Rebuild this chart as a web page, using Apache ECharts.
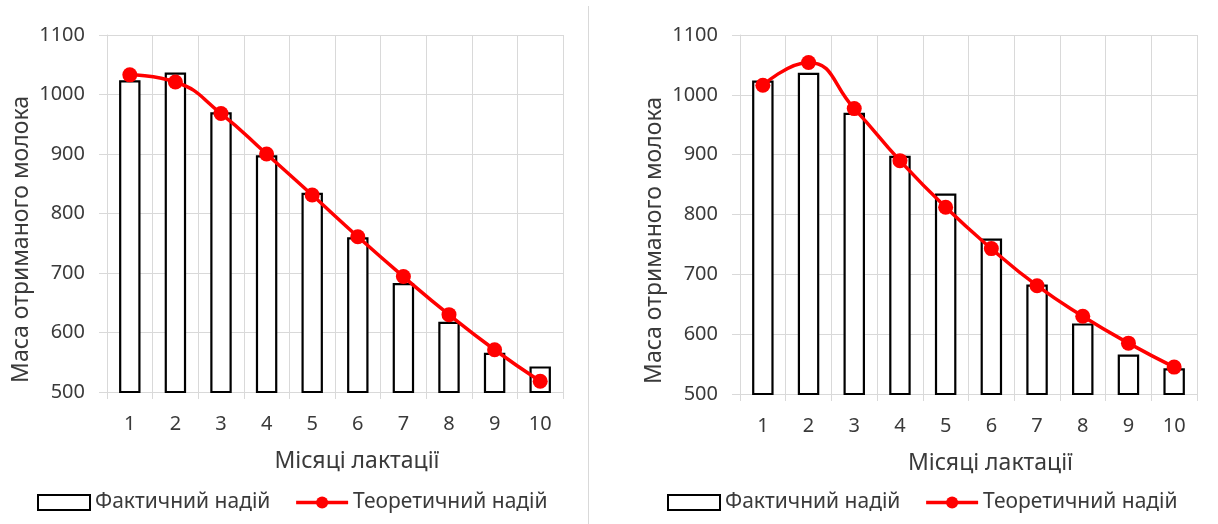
<!DOCTYPE html>
<html>
<head>
<meta charset="utf-8">
<script src="https://cdn.jsdelivr.net/npm/echarts@6/dist/echarts.min.js"></script>
<style>
html,body{margin:0;padding:0;background:#fff;}
#wrap{position:relative;width:1218px;height:524px;}
#chart{position:absolute;left:0;top:0;width:1218px;height:524px;}
#sep{position:absolute;left:588px;top:6px;width:1px;height:518px;background:#d9d9d9;}
</style>
</head>
<body>
<div id="wrap"><div id="chart"></div><div id="sep"></div></div>
<script>
// ---- data ----
const months = ['1','2','3','4','5','6','7','8','9','10'];
const actualYield = [1024, 1037, 970, 898, 835, 760, 683, 618, 566, 543];
const theoreticalLeft = [1033, 1021, 968, 900, 831, 761, 694, 630, 571, 518];
const theoreticalRight = [1016, 1054, 977, 890, 812, 743, 681, 630, 585, 545];
const yTicks = { min: 500, max: 1100, step: 100 };
const barName = 'Фактичний надій';
const lineName = 'Теоретичний надій';
const xTitle = 'Місяці лактації';
const yTitle = 'Маса отриманого молока';

const FONT = 'Noto Sans';
const TXT = '#3a3a3a';
const GRID = '#d9d9d9';

function xAxisCfg(gi) {
  return {
    type: 'category', gridIndex: gi, data: months, boundaryGap: true,
    axisLine: { show: true, lineStyle: { color: GRID, width: 1 } },
    axisTick: { show: true, length: 7, interval: 0, lineStyle: { color: GRID } },
    splitLine: { show: true, interval: 0, lineStyle: { color: GRID, width: 1 } },
    axisLabel: { margin: 22, fontSize: 20, fontFamily: FONT, color: TXT, interval: 0 },
    name: xTitle, nameLocation: 'middle', nameGap: 58,
    nameTextStyle: { fontSize: 23, fontFamily: FONT, color: TXT, padding: [0, 0, 0, 44] }
  };
}
function yAxisCfg(gi) {
  return {
    type: 'value', gridIndex: gi, min: yTicks.min, max: yTicks.max, interval: yTicks.step,
    axisLine: { show: true, lineStyle: { color: GRID, width: 1 } },
    axisTick: { show: true, length: 8, lineStyle: { color: GRID } },
    splitLine: { show: true, lineStyle: { color: GRID, width: 1 } },
    axisLabel: { margin: 22, fontSize: 20, fontFamily: FONT, color: TXT, formatter: v => String(v) },
    name: yTitle, nameLocation: 'middle', nameRotate: 90, nameGap: 74,
    nameTextStyle: { fontSize: 23, fontFamily: FONT, color: TXT, padding: [0, 52, 0, 0] }
  };
}
function barSeries(gi) {
  return {
    name: barName, type: 'bar', xAxisIndex: gi, yAxisIndex: gi, data: actualYield,
    barWidth: '47%',
    itemStyle: { color: '#ffffff', borderColor: '#000000', borderWidth: 2.2 },
    z: 2
  };
}
function lineSeries(gi, values) {
  return {
    name: lineName, type: 'line', xAxisIndex: gi, yAxisIndex: gi, data: values,
    smooth: 0.5, symbol: 'circle', symbolSize: 15,
    lineStyle: { color: '#ff0000', width: 3.5 },
    itemStyle: { color: '#ff0000' },
    z: 5
  };
}
function legendCfg(left) {
  return {
    left: left, top: 492, padding: 0, itemWidth: 52, itemHeight: 15, itemGap: 24,
    data: [{ name: barName, icon: 'rect' }, { name: lineName }],
    lineStyle: { width: 3.5 },
    textStyle: { fontSize: 21, fontFamily: FONT, color: TXT },
    selectedMode: false
  };
}

const chart = echarts.init(document.getElementById('chart'), null, { renderer: 'canvas' });
chart.setOption({
  animation: false,
  backgroundColor: '#ffffff',
  textStyle: { fontFamily: FONT },
  grid: [
    { left: 107, right: 655, top: 35, bottom: 132 },
    { left: 740, right: 21, top: 35, bottom: 130 }
  ],
  xAxis: [xAxisCfg(0), xAxisCfg(1)],
  yAxis: [yAxisCfg(0), yAxisCfg(1)],
  legend: [legendCfg(37), legendCfg(667)],
  series: [barSeries(0), lineSeries(0, theoreticalLeft), barSeries(1), lineSeries(1, theoreticalRight)]
});
</script>
</body>
</html>
